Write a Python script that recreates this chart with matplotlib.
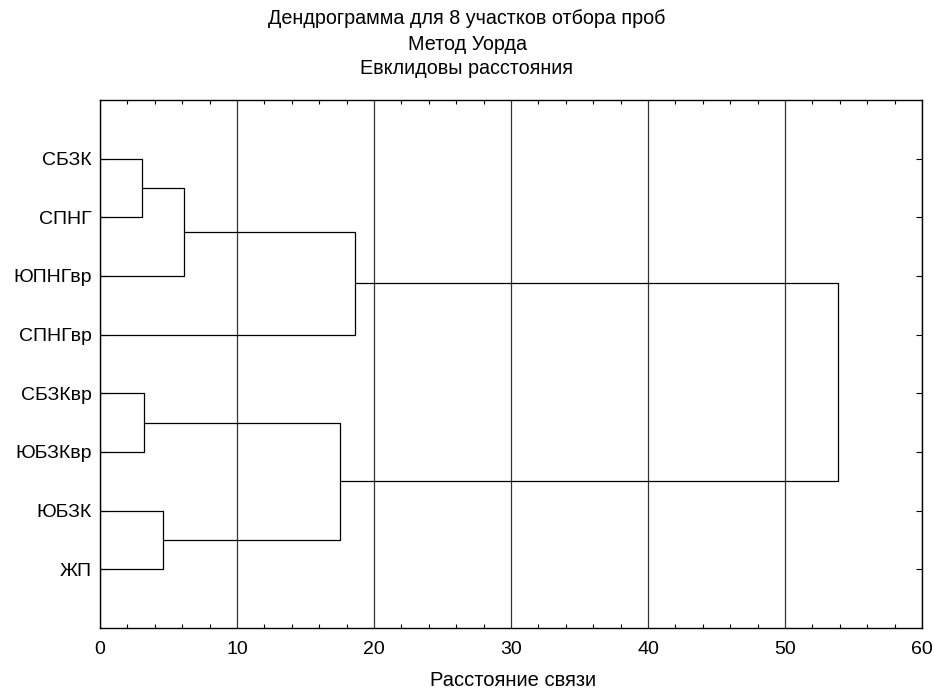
import matplotlib
matplotlib.use("Agg")
import matplotlib.pyplot as plt
from matplotlib.ticker import MultipleLocator

plt.rcParams['font.family'] = ['Liberation Sans', 'DejaVu Sans']

leaves = ["СБЗК", "СПНГ", "ЮПНГвр", "СПНГвр", "СБЗКвр", "ЮБЗКвр", "ЮБЗК", "ЖП"]
# merges: (left node, right node, distance); nodes 0..7 are leaves, 8.. are clusters
merge_left = [0, 8, 4, 6, 9, 10, 12]
merge_right = [1, 2, 5, 7, 3, 11, 13]
merge_dist = [3.1, 6.1, 3.2, 4.6, 18.6, 17.5, 53.9]

fig = plt.figure(figsize=(9.34, 6.91), dpi=100)
ax = fig.add_axes([100/934, 1-628/691, 822/934, 528/691])

pos = {i: (0.0, i + 1) for i in range(len(leaves))}
lw = 0.9
for k, (a, b, d) in enumerate(zip(merge_left, merge_right, merge_dist)):
    xa, ya = pos[a]
    xb, yb = pos[b]
    ax.plot([xa, d, d, xb], [ya, ya, yb, yb], color='black', lw=lw, solid_capstyle='butt', zorder=3)
    pos[len(leaves) + k] = (d, (ya + yb) / 2)

ax.set_xlim(0, 60)
ax.set_ylim(9, 0)
ax.xaxis.set_major_locator(MultipleLocator(10))
ax.xaxis.set_minor_locator(MultipleLocator(2))
ax.set_yticks(range(1, len(leaves) + 1))
ax.set_yticklabels(leaves)
ax.grid(axis='x', which='major', color='#333333', lw=0.9)
ax.tick_params(axis='x', which='both', direction='in', top=True, bottom=True, labelsize=14, pad=9)
ax.tick_params(axis='x', which='major', length=0)
ax.tick_params(axis='x', which='minor', length=3, width=0.8)
ax.tick_params(axis='y', which='both', direction='in', left=True, right=True, length=4, labelsize=14, pad=6)
for s in ax.spines.values():
    s.set_linewidth(1.0)
    s.set_color('black')

fig.text(513/934, 1-681/691, "Расстояние связи", ha='center', va='center', fontsize=14.5)
fig.text(0.5, 1-19/691, "Дендрограмма для 8 участков отбора проб", ha='center', va='center', fontsize=14.2)
fig.text(0.5, 1-44/691, "Метод Уорда", ha='center', va='center', fontsize=14.2)
fig.text(0.5, 1-69/691, "Евклидовы расстояния", ha='center', va='center', fontsize=14.2)

fig.savefig("out.png", dpi=100)
